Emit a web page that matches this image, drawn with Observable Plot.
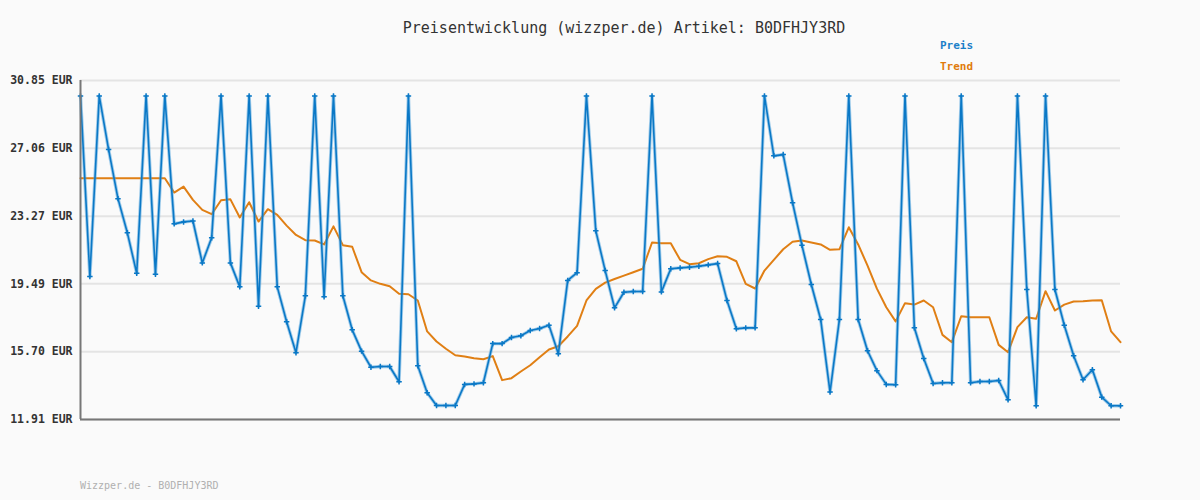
<!DOCTYPE html>
<html>
<head>
<meta charset="utf-8">
<script src="https://cdn.jsdelivr.net/npm/d3@7"></script>
<script src="https://cdn.jsdelivr.net/npm/@observablehq/plot@0.6"></script>
<style>
  html, body { margin: 0; padding: 0; background: #fafafa; }
  #wrap { position: relative; width: 1200px; height: 500px; background: #fafafa; }
  .t { position: absolute; font-family: "DejaVu Sans Mono", monospace; white-space: nowrap; }
  #title { left: 0; width: 1248px; text-align: center; top: 19px; font-size: 15px; color: #333; }
  #lp { left: 940px; top: 39px; font-size: 11px; font-weight: bold; color: #1a7fc8; }
  #lt { left: 940px; top: 60px; font-size: 11px; font-weight: bold; color: #e07b0c; }
  #foot { left: 80px; top: 480px; font-size: 10px; color: #b0b0b0; }
  #chart { position: absolute; left: 0; top: 0; }
</style>
</head>
<body>
<div id="wrap">
  <div id="chart"></div>
  <div class="t" id="title">Preisentwicklung (wizzper.de) Artikel: B0DFHJY3RD</div>
  <div class="t" id="lp">Preis</div>
  <div class="t" id="lt">Trend</div>
  <div class="t" id="foot">Wizzper.de - B0DFHJY3RD</div>
</div>
<script>
const TOP = 29.99;
const preis = [
  TOP, 19.90, TOP, 26.99, 24.25, 22.34, 20.08, TOP, 20.03, TOP,
  22.84, 22.95, 23.00, 20.66, 22.06, TOP, 20.66, 19.32, TOP, 18.24,
  TOP, 19.32, 17.37, 15.64, 18.82, TOP, 18.77, TOP, 18.82, 16.92,
  15.73, 14.83, 14.87, 14.87, 14.02, TOP, 14.91, 13.40, 12.69, 12.69,
  12.69, 13.87, 13.90, 13.96, 16.15, 16.15, 16.49, 16.59, 16.88, 16.99,
  17.18, 15.58, 19.68, 20.11, TOP, 22.45, 20.23, 18.15, 19.02, 19.06,
  19.06, TOP, 19.04, 20.33, 20.38, 20.42, 20.47, 20.55, 20.62, 18.56,
  16.98, 17.03, 17.03, TOP, 26.64, 26.71, 24.02, 21.64, 19.45, 17.50,
  13.44, 17.50, TOP, 17.50, 15.75, 14.64, 13.87, 13.85, TOP, 17.03,
  15.32, 13.92, 13.96, 13.96, TOP, 13.96, 14.03, 14.03, 14.09, 13.01,
  TOP, 19.17, 12.68, TOP, 19.17, 17.18, 15.47, 14.13, 14.69, 13.16,
  12.68, 12.68
];
const trend = [
  25.39, 25.39, 25.39, 25.39, 25.39, 25.39, 25.39, 25.39, 25.39, 25.39,
  24.59, 24.92, 24.18, 23.62, 23.38, 24.16, 24.21, 23.20, 24.05, 22.97,
  23.66, 23.34, 22.74, 22.22, 21.93, 21.91, 21.69, 22.70, 21.65, 21.56,
  20.14, 19.68, 19.49, 19.36, 18.93, 18.91, 18.56, 16.83, 16.27, 15.86,
  15.50, 15.43, 15.33, 15.28, 15.45, 14.11, 14.22, 14.59, 14.94, 15.39,
  15.82, 16.00, 16.55, 17.14, 18.56, 19.21, 19.56, 19.76, 19.95, 20.14,
  20.33, 21.80, 21.76, 21.76, 20.83, 20.59, 20.64, 20.87, 21.03, 21.00,
  20.75, 19.49, 19.23, 20.23, 20.83, 21.42, 21.84, 21.91, 21.80, 21.69,
  21.39, 21.42, 22.65, 21.69, 20.51, 19.22, 18.18, 17.39, 18.41, 18.33,
  18.56, 18.18, 16.64, 16.23, 17.68, 17.62, 17.62, 17.62, 16.08, 15.67,
  17.07, 17.62, 17.54, 19.08, 18.00, 18.33, 18.50, 18.52, 18.56, 18.57,
  16.83, 16.23
];
const yTicks = [11.91, 15.70, 19.49, 23.27, 27.06, 30.85];

const rows = preis.map((p, i) => ({i, preis: p, trend: trend[i]}));

const chart = Plot.plot({
  width: 1200,
  height: 500,
  marginLeft: 80,
  marginRight: 80,
  marginTop: 80,
  marginBottom: 81,
  style: {background: "transparent", fontFamily: "DejaVu Sans Mono, monospace"},
  x: {domain: [0, preis.length - 1], axis: null},
  y: {domain: [11.91, 30.85], ticks: yTicks, tickFormat: d => d.toFixed(2) + " EUR"},
  marks: [
    Plot.gridY(yTicks, {stroke: "#e4e4e4", strokeOpacity: 1, strokeWidth: 2}),
    Plot.axisY(yTicks, {tickSize: 0, tickPadding: 8, fontSize: 11.5, fontWeight: "bold", fill: "#333",
      tickFormat: d => d.toFixed(2) + " EUR"}),
    Plot.line(rows, {x: "i", y: "trend", stroke: "#e07f14", strokeWidth: 2}),
    Plot.line(rows, {x: "i", y: "preis", stroke: "#4aa0dc", strokeWidth: 3.4, strokeOpacity: 0.5}),
    Plot.line(rows, {x: "i", y: "preis", stroke: "#0a78c6", strokeWidth: 1.6}),
    Plot.dot(rows, {x: "i", y: "preis", symbol: "plus", r: 1.9, stroke: "#0a78c6", strokeWidth: 1.5}),
    Plot.ruleX([0], {stroke: "#777", strokeWidth: 2}),
    Plot.ruleY([11.91], {stroke: "#777", strokeWidth: 2})
  ]
});
document.getElementById("chart").appendChild(chart);
</script>
</body>
</html>
